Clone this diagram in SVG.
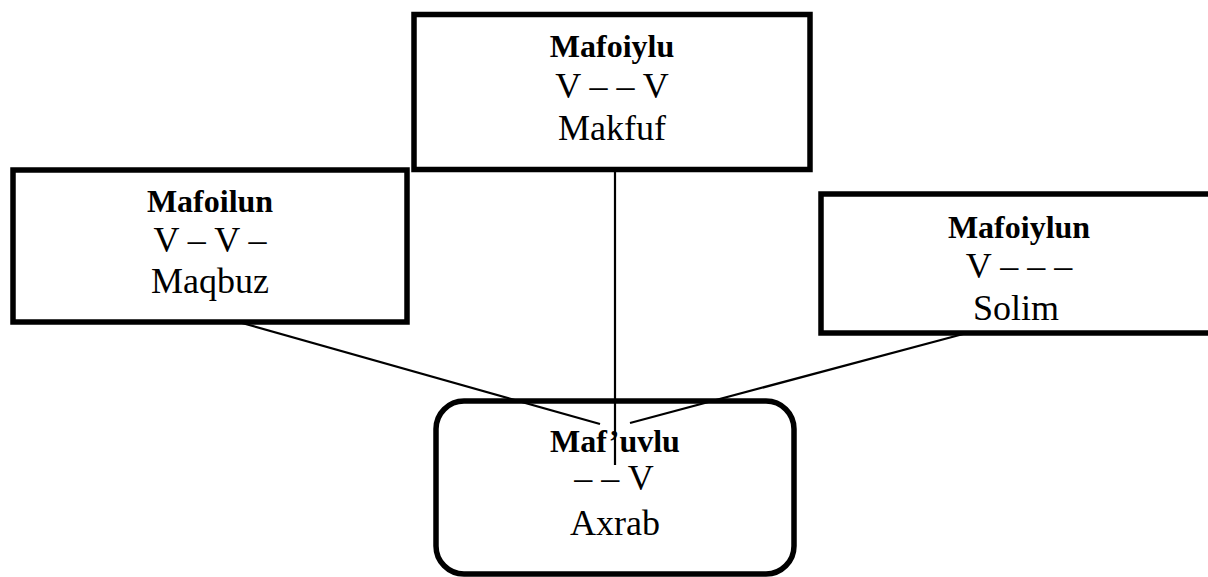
<svg xmlns="http://www.w3.org/2000/svg" width="1208" height="577" viewBox="0 0 1208 577">
  <style>
    .box { fill: #ffffff; stroke: #000000; stroke-width: 5.5; }
    .t { font-family: "Liberation Serif", "Times New Roman", serif; fill: #000000; text-anchor: middle; }
    .b { font-weight: bold; font-size: 32px; }
    .r { font-size: 36px; }
    .conn { stroke: #000000; stroke-width: 2.2; fill: none; }
  </style>
  <rect x="0" y="0" width="1208" height="577" fill="#ffffff"/>
  <g id="node-mafoiylu">
    <rect class="box" x="414" y="14.5" width="396" height="155"/>
    <text class="t b" x="612" y="57">Mafoiylu</text>
    <text class="t r" x="612" y="98">V – – V</text>
    <text class="t r" x="612" y="140">Makfuf</text>
  </g>
  <g id="node-mafoilun">
    <rect class="box" x="13" y="170" width="394" height="152"/>
    <text class="t b" x="210" y="212">Mafoilun</text>
    <text class="t r" x="210" y="252">V – V –</text>
    <text class="t r" x="210" y="293">Maqbuz</text>
  </g>
  <g id="node-mafoiylun">
    <rect class="box" x="821" y="194" width="400" height="139"/>
    <text class="t b" x="1019" y="238">Mafoiylun</text>
    <text class="t r" x="1019" y="278">V – – –</text>
    <text class="t r" x="1016" y="320">Solim</text>
  </g>
  <g id="node-mafuvlu">
    <rect class="box" x="436" y="401" width="358" height="173" rx="28" ry="28"/>
    <text class="t b" x="615" y="452">Maf’uvlu</text>
    <text class="t r" x="614" y="490">– – V</text>
    <text class="t r" x="615" y="535">Axrab</text>
  </g>
  <g id="connectors">
    <line class="conn" x1="615" y1="170" x2="615" y2="465"/>
    <line class="conn" x1="242" y1="323" x2="600" y2="424"/>
    <line class="conn" x1="967" y1="333" x2="630" y2="423"/>
  </g>
</svg>
